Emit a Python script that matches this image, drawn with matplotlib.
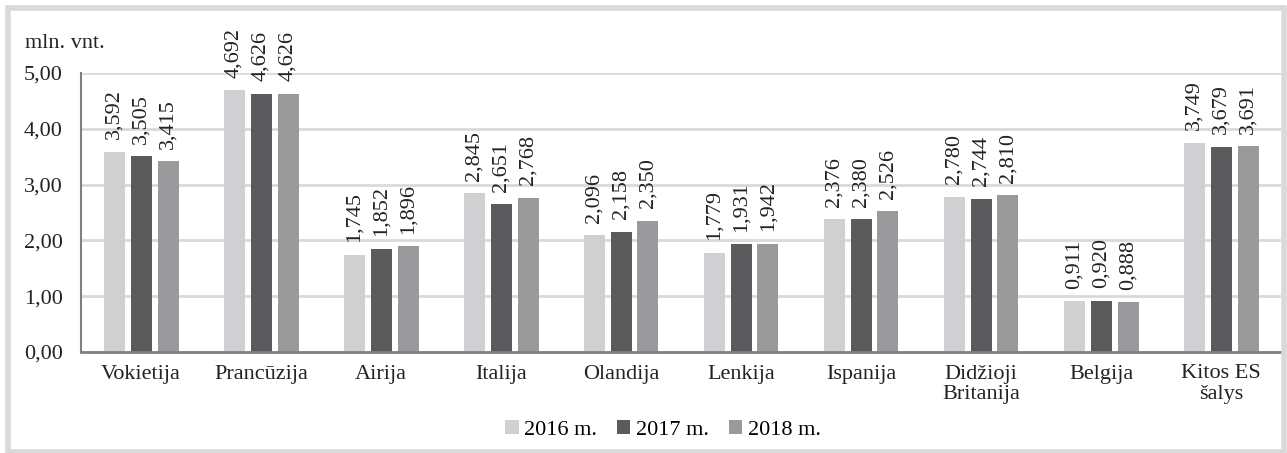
import matplotlib.pyplot as plt
import numpy as np
from matplotlib.patches import Rectangle
from matplotlib.ticker import FuncFormatter

categories = ["Vokietija", "Prancūzija", "Airija", "Italija", "Olandija",
              "Lenkija", "Ispanija", "Didžioji\nBritanija", "Belgija",
              "Kitos ES\nšalys"]
years = ["2016 m.", "2017 m.", "2018 m."]
v2016 = [3.592, 4.692, 1.745, 2.845, 2.096, 1.779, 2.376, 2.780, 0.911, 3.749]
v2017 = [3.505, 4.626, 1.852, 2.651, 2.158, 1.931, 2.380, 2.744, 0.920, 3.679]
v2018 = [3.415, 4.626, 1.896, 2.768, 2.350, 1.942, 2.526, 2.810, 0.888, 3.691]
colors = ["#d0d0d2", "#5b5b5d", "#9a9a9c"]

FS = 16
plt.rcParams["font.family"] = ["Liberation Serif", "DejaVu Serif"]
plt.rcParams["font.size"] = FS

fig = plt.figure(figsize=(12.87, 4.53), dpi=100)
ax = fig.add_axes([81 / 1287, 1 - 352 / 453, 1200 / 1287, 279 / 453])

x = np.arange(len(categories))
width = 0.175
pitch = 0.225
for i, (vals, lab, col) in enumerate(zip([v2016, v2017, v2018], years, colors)):
    pos = x + (i - 1) * pitch
    ax.bar(pos, vals, width, color=col, label=lab, zorder=3)
    for px, v in zip(pos, vals):
        ax.annotate(f"{v:.3f}".replace(".", ","), (px, v),
                    xytext=(0, 9), textcoords="offset points",
                    rotation=90, ha="center", va="bottom",
                    fontsize=FS, color="#222222")

ax.set_xlim(-0.5, len(categories) - 0.5)
ax.set_ylim(0, 5)
ax.set_yticks(np.arange(0, 5.01, 1))
ax.yaxis.set_major_formatter(FuncFormatter(lambda v, _: f"{v:.2f}".replace(".", ",")))
ax.set_xticks(x)
ax.set_xticklabels(categories, color="#222222", linespacing=1.1)
ax.tick_params(axis="both", length=0, colors="#222222")
ax.tick_params(axis="x", pad=9)
ax.tick_params(axis="y", pad=13)
ax.grid(axis="y", color="#d9d9d9", lw=2, zorder=0)
for s in ["top", "right"]:
    ax.spines[s].set_visible(False)
ax.spines["bottom"].set_color("#808080")
ax.spines["bottom"].set_linewidth(2)
ax.spines["left"].set_color("#808080")
ax.spines["left"].set_linewidth(1.5)
ax.spines["bottom"].set_zorder(4)

fig.text(25 / 1287, 1 - 44 / 453, "mln. vnt.", fontsize=FS,
         va="center", ha="left", color="#222222")

fig.legend(loc="center", bbox_to_anchor=(663 / 1287, 1 - 430 / 453),
           ncol=3, frameon=False, handlelength=0.6, handleheight=0.6,
           handletextpad=0.25, columnspacing=0.9, fontsize=FS)

fig.patches.append(Rectangle((8 / 1287, 1.5 / 453), 1276 / 1287, 444 / 453,
                             transform=fig.transFigure, fill=False,
                             edgecolor="#d9d9d9", lw=4))

fig.savefig("out.png", dpi=100)
